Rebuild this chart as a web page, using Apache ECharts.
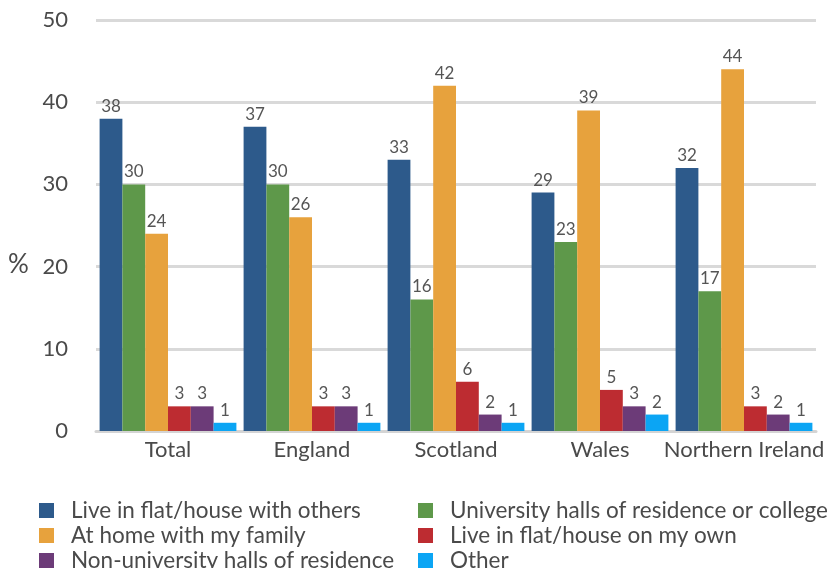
<!DOCTYPE html>
<html>
<head>
<meta charset="utf-8">
<script src="https://cdn.jsdelivr.net/npm/echarts@6/dist/echarts.min.js"></script>
<style>
  html, body { margin: 0; padding: 0; background: #fff; }
  #chart { width: 830px; height: 568px; }
</style>
</head>
<body>
<div id="chart"></div>
<script>
// Where students live, by nation (%)
const categories = ['Total', 'England', 'Scotland', 'Wales', 'Northern Ireland'];
const seriesNames = [
  'Live in flat/house with others',
  'University halls of residence or college',
  'At home with my family',
  'Live in flat/house on my own',
  'Non-university halls of residence',
  'Other'
];
const flatWithOthers = [38, 37, 33, 29, 32];
const universityHalls = [30, 30, 16, 23, 17];
const homeWithFamily = [24, 26, 42, 39, 44];
const flatOnOwn = [3, 3, 6, 5, 3];
const nonUniversityHalls = [3, 3, 2, 3, 2];
const other = [1, 1, 1, 2, 1];
const yTicks = [0, 10, 20, 30, 40, 50];

const values = [flatWithOthers, universityHalls, homeWithFamily, flatOnOwn, nonUniversityHalls, other];
const colors = ['#2D5A8B', '#5E984A', '#E7A23D', '#BD2C31', '#6C3B78', '#0BA5F4'];
const font = 'Lato, "Open Sans", sans-serif';
const textColor = '#4a4a4a';

const chart = echarts.init(document.getElementById('chart'), null, { renderer: 'canvas' });

const series = values.map((v, i) => ({
  name: seriesNames[i],
  type: 'bar',
  data: v,
  barGap: '0%',
  barCategoryGap: '5%',
  itemStyle: { color: colors[i] },
  label: {
    show: true,
    position: 'top',
    distance: 4,
    color: '#555',
    fontFamily: font,
    fontSize: 17
  }
}));

const legendCommon = {
  orient: 'vertical',
  icon: 'rect',
  itemWidth: 15,
  itemHeight: 15,
  itemGap: 2,
  height: 120,
  padding: 0,
  textStyle: {
    color: textColor,
    fontFamily: font,
    fontSize: 22.5,
    lineHeight: 22,
    padding: [0, 0, 0, 12]
  },
  selectedMode: false
};

chart.setOption({
  animation: false,
  grid: { left: 96, right: 14, top: 20, bottom: 137 },
  legend: [
    Object.assign({}, legendCommon, { left: 39, top: 499, data: [seriesNames[0], seriesNames[2], seriesNames[4]] }),
    Object.assign({}, legendCommon, { left: 418, top: 499, data: [seriesNames[1], seriesNames[3], seriesNames[5]] })
  ],
  graphic: [{
    type: 'text',
    left: 8,
    top: 252,
    style: { text: '%', fill: textColor, font: '26px ' + font }
  }],
  xAxis: {
    type: 'category',
    data: categories,
    axisTick: { show: false },
    axisLine: { lineStyle: { color: '#d4d4d4', width: 3 } },
    axisLabel: { color: textColor, fontFamily: font, fontSize: 22, margin: 8, interval: 0 }
  },
  yAxis: {
    type: 'value',
    min: yTicks[0],
    max: yTicks[yTicks.length - 1],
    interval: 10,
    axisLine: { show: false },
    axisTick: { show: false },
    splitLine: { lineStyle: { color: '#d9d9d9', width: 3 } },
    axisLabel: { color: textColor, fontFamily: font, fontSize: 22, margin: 28 }
  },
  series: series
});
</script>
</body>
</html>
